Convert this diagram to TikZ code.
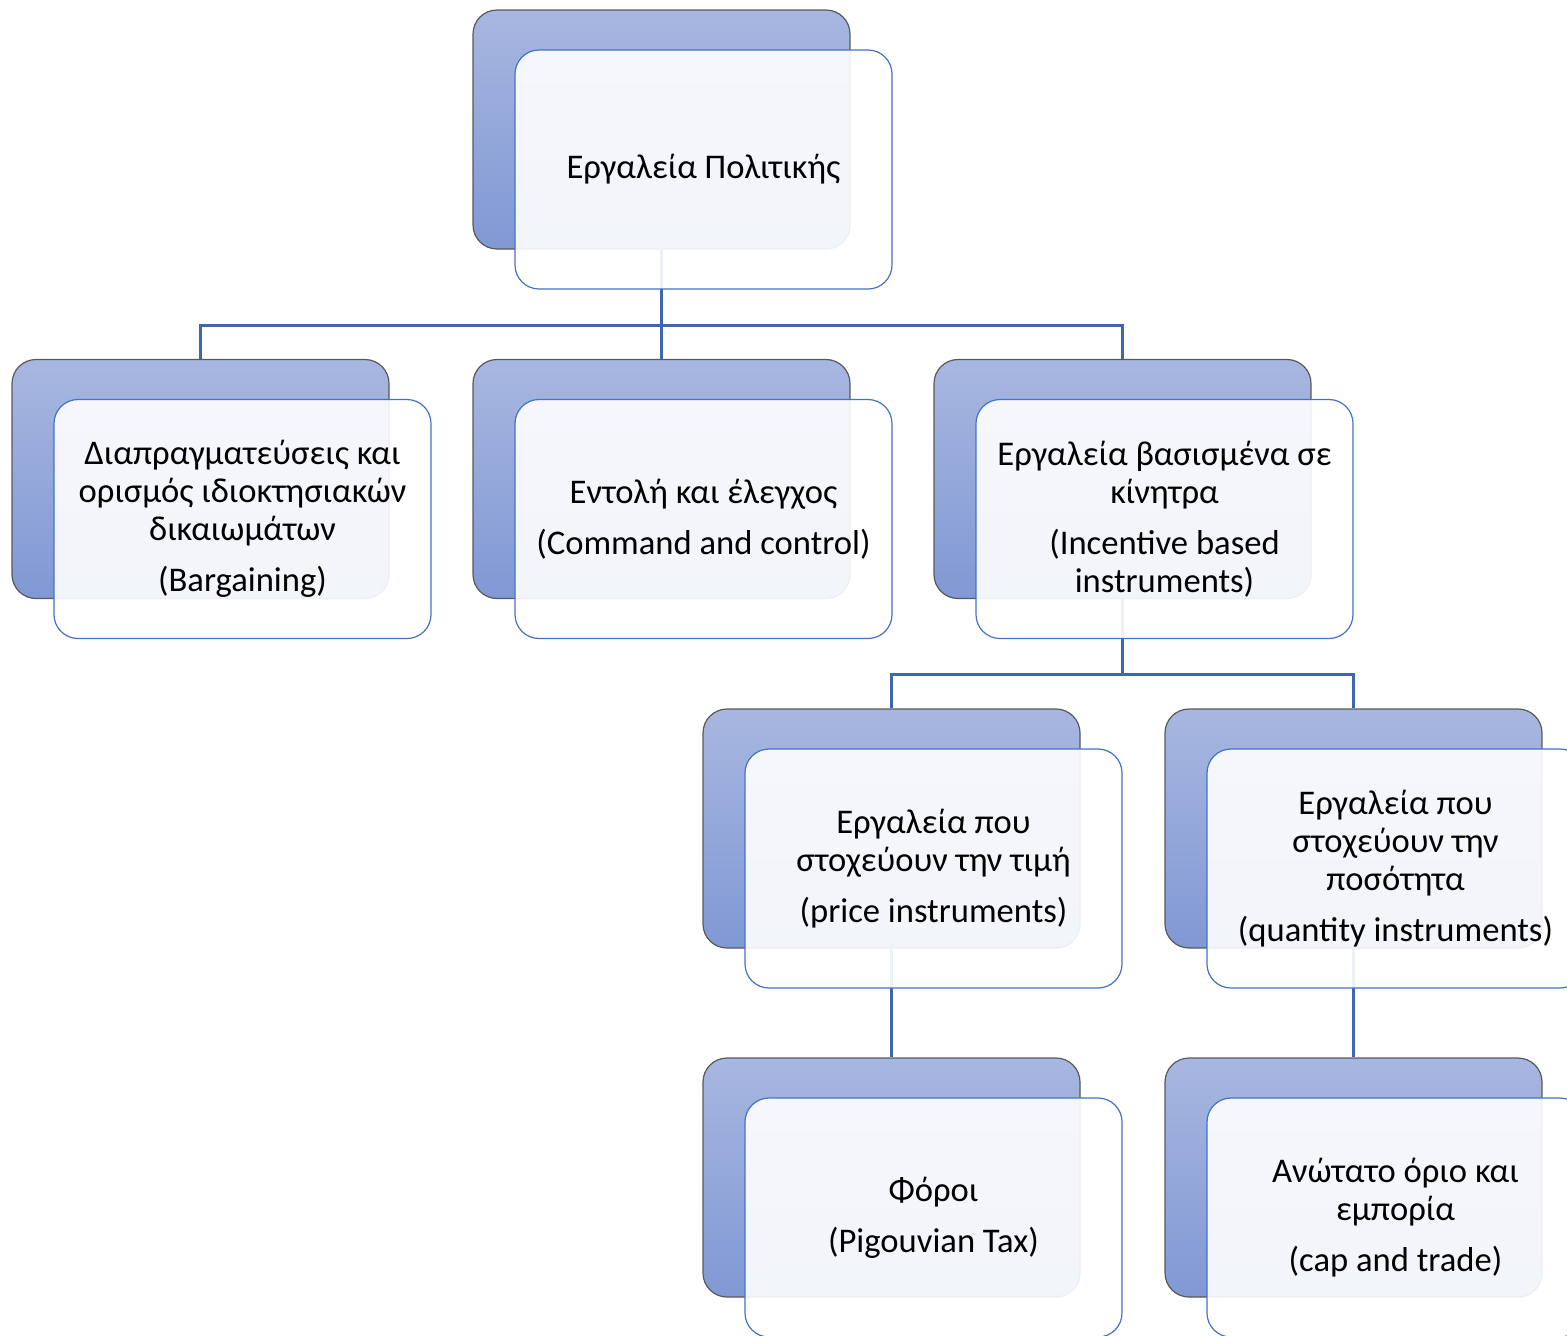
\documentclass[tikz,border=0pt]{standalone}
\usepackage{fontspec}
\setmainfont{Carlito}
\usetikzlibrary{positioning}

\definecolor{linkblue}{RGB}{64,102,176}
\definecolor{edgeblue}{RGB}{68,114,196}
\definecolor{backtop}{RGB}{168,183,224}
\definecolor{backbottom}{RGB}{128,152,212}

\begin{document}
\begin{tikzpicture}[x=0.5pt,y=-0.5pt,
	backbox/.style={draw=black!65,line width=0.6pt,rounded corners=12pt,
		top color=backtop,bottom color=backbottom,
		minimum width=188.5pt,minimum height=119.5pt},
	frontbox/.style={draw=edgeblue,line width=0.6pt,rounded corners=12pt,
		fill=white,fill opacity=0.9,text opacity=1,
		minimum width=188.5pt,minimum height=119.5pt,
		align=center,font=\fontsize{17.3}{19}\selectfont},
	link/.style={draw=linkblue,line width=1.5pt}]
	\useasboundingbox (0,0) rectangle (1567,1335);

	%% joints of the tree
	\coordinate (j1) at (661.5,325);
	\coordinate (j2) at (1122.5,674);

	%% back boxes
	\node[backbox] (b1) at (661.5,129.5) {};
	\node[backbox] (b2) at (200.5,479) {};
	\node[backbox] (b3) at (661.5,479) {};
	\node[backbox] (b4) at (1122.5,479) {};
	\node[backbox] (b5) at (891.5,828.5) {};
	\node[backbox] (b6) at (1353.5,828.5) {};
	\node[backbox] (b7) at (891.5,1177.5) {};
	\node[backbox] (b8) at (1353.5,1177.5) {};

	%% connectors
	\draw[link] (b1.south) -- (j1) -| (b2.north);
	\draw[link] (j1) -- (b3.north);
	\draw[link] (j1) -| (b4.north);
	\draw[link] (b4.south) -- (j2) -| (b5.north);
	\draw[link] (j2) -| (b6.north);
	\draw[link] (b5.south) -- (b7.north);
	\draw[link] (b6.south) -- (b8.north);

	%% front boxes with the texts
	\node[frontbox] (f1) at ([shift={(42,40)}]b1.center) {Εργαλεία Πολιτικής};
	\node[frontbox] (f2) at ([shift={(42,40)}]b2.center)
		{Διαπραγματεύσεις και\\ορισμός ιδιοκτησιακών\\δικαιωμάτων\\[6.5pt](Bargaining)};
	\node[frontbox] (f3) at ([shift={(42,40)}]b3.center)
		{Εντολή και έλεγχος\\[6.5pt](Command and control)};
	\node[frontbox] (f4) at ([shift={(42,40)}]b4.center)
		{Εργαλεία βασισμένα σε\\κίνητρα\\[6.5pt](Incentive based\\instruments)};
	\node[frontbox] (f5) at ([shift={(42,40)}]b5.center)
		{Εργαλεία που\\στοχεύουν την τιμή\\[6.5pt](price instruments)};
	\node[frontbox] (f6) at ([shift={(42,40)}]b6.center)
		{Εργαλεία που\\στοχεύουν την\\ποσότητα\\[6.5pt](quantity instruments)};
	\node[frontbox] (f7) at ([shift={(42,40)}]b7.center)
		{Φόροι\\[6.5pt](Pigouvian Tax)};
	\node[frontbox] (f8) at ([shift={(42,40)}]b8.center)
		{Ανώτατο όριο και\\εμπορία\\[6.5pt](cap and trade)};

\end{tikzpicture}
\end{document}
